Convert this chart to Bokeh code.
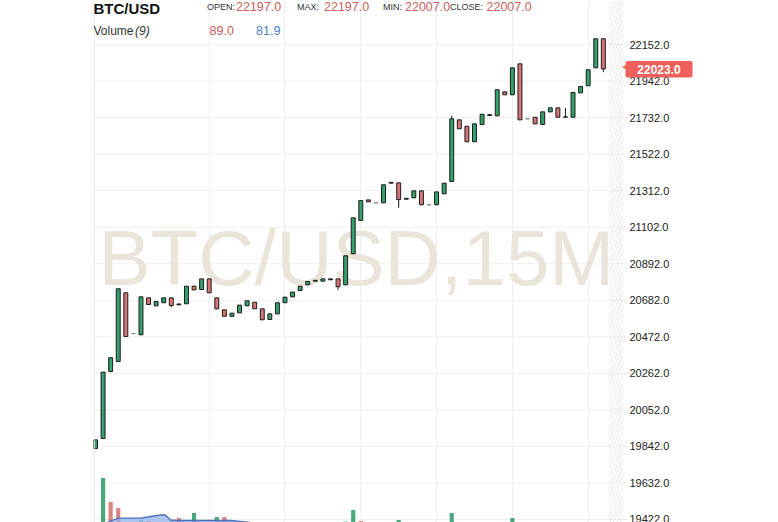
from bokeh.plotting import figure
from bokeh.models import (Range1d, LinearAxis, FixedTicker, NumeralTickFormatter, Label, Span,
                          Grid, ColumnDataSource, BoxAnnotation)
from bokeh.core.properties import value
from bokeh.embed import file_html
from bokeh.resources import INLINE

# ---------------- data ----------------
opens = [19830, 19888, 20273, 20330, 20725, 20491, 20484, 20696, 20650, 20668,
         20696, 20656, 20662, 20763, 20744, 20805, 20696, 20627, 20590, 20610,
         20650, 20671, 20633, 20572, 20604, 20668, 20702, 20738, 20771, 20792,
         20792, 20800, 20805, 20771, 20949, 21141, 21259, 21242, 21242, 21355,
         21357, 21263, 21271, 21311, 21231, 21231, 21294, 21365, 21719, 21682,
         21593, 21692, 21744, 21742, 21880, 21863, 22041, 21725, 21734, 21692,
         21765, 21788, 21734, 21734, 21874, 21915, 22018, 22185]
closes = [19880, 20269, 20352, 20748, 20474, 20491, 20702, 20658, 20675, 20696,
          20652, 20661, 20763, 20742, 20805, 20725, 20633, 20590, 20608, 20654,
          20679, 20633, 20570, 20604, 20668, 20700, 20729, 20763, 20790, 20797,
          20805, 20805, 20760, 20938, 21156, 21255, 21248, 21242, 21346, 21360,
          21261, 21268, 21311, 21231, 21231, 21305, 21355, 21725, 21668, 21593,
          21696, 21751, 21749, 21892, 21863, 22018, 21719, 21725, 21696, 21765,
          21788, 21734, 21736, 21876, 21911, 22007, 22185, 22012]
highs = [19880, 20269, 20352, 20748, 20725, 20491, 20702, 20696, 20675, 20696,
         20696, 20661, 20763, 20763, 20805, 20805, 20696, 20627, 20608, 20654,
         20679, 20671, 20633, 20604, 20668, 20700, 20729, 20763, 20790, 20797,
         20805, 20805, 20805, 20938, 21156, 21255, 21259, 21242, 21346, 21360,
         21357, 21268, 21311, 21311, 21231, 21305, 21355, 21742, 21719, 21682,
         21696, 21751, 21749, 21892, 21880, 22018, 22041, 21725, 21734, 21765,
         21788, 21788, 21788, 21876, 21911, 22007, 22185, 22185]
lows = [19830, 19888, 20273, 20330, 20474, 20491, 20484, 20658, 20650, 20668,
        20642, 20656, 20662, 20742, 20744, 20725, 20633, 20590, 20590, 20610,
        20650, 20633, 20570, 20572, 20604, 20668, 20702, 20738, 20771, 20792,
        20792, 20800, 20742, 20771, 20949, 21141, 21248, 21242, 21242, 21355,
        21214, 21263, 21271, 21231, 21231, 21231, 21294, 21365, 21668, 21593,
        21593, 21692, 21744, 21742, 21863, 21863, 21719, 21725, 21696, 21692,
        21765, 21734, 21734, 21734, 21874, 21915, 22018, 21993]

# visible volume bars (index, volume, rising?)
vol_idx = [1, 2, 3, 6, 7, 10, 11, 13, 16, 17, 33, 34, 35, 40, 47, 55]
vol_val = [189, 141, 129, 104, 103, 105, 109, 119, 111, 111, 102, 125, 103, 105, 119, 109]
vol_up = [True, False, False, True, False, True, False, True, True, False, True, True, False, True, True, True]

# volume moving average (9)
ma_x = [1.5, 3, 6, 7.3, 8.6, 9.2, 9.9, 10.8, 17.8, 20.4]
ma_v = [100, 108.6, 108.6, 112, 115.4, 115, 105.4, 104, 104, 100]

price_ticks = [19422 + 210 * k for k in range(14)]
time_grid = [15, 25, 35, 45, 55, 65]

symbol = "BTC/USD"
watermark = "BTC/USD,15M"
hdr_open, hdr_max, hdr_min, hdr_close = "22197.0", "22197.0", "22007.0", "22007.0"
vol_last, vol_ma = "89.0", "81.9"
last_price = "22023.0"
last_price_level = 22023

# ---------------- styles ----------------
GREEN = "#35a06f"
RED = "#d67575"
EDGE = "#1c1c1c"
FONT = "Liberation Sans"
VAL_RED = "#c8605d"
VAL_BLUE = "#4f81bd"
TAG = "#f0605c"

SCALE = 7.5797           # px per candle slot
FL, FT = 93, 0           # frame position on the canvas
FW, FH = 607, 522        # frame size (includes the price-label strip)
X0 = -0.264
X1 = X0 + FW / SCALE
Y0, Y1 = 19405, 22405
PLOT_RIGHT = 623         # end of the drawing area (hatched zone ends here)


def px2x(px):
    return X0 + (px - FL) * (X1 - X0) / FW


def px2y(py):
    return Y1 - (py - FT) * (Y1 - Y0) / FH


p = figure(width=770, height=522, output_backend="svg", toolbar_location=None,
           x_range=Range1d(X0, X1), y_range=Range1d(Y0, Y1),
           x_axis_location=None, y_axis_location=None,
           min_border_left=FL, min_border_right=770 - FL - FW, min_border_top=0, min_border_bottom=0,
           background_fill_color="white", border_fill_color="white", outline_line_color=None)
p.grid.visible = False

p.add_layout(Grid(dimension=0, ticker=FixedTicker(ticks=time_grid), grid_line_color="#efefef"))
# horizontal price grid, stopping just after the chart area
p.segment(x0=[X0] * len(price_ticks), x1=[px2x(628)] * len(price_ticks),
          y0=price_ticks, y1=price_ticks, line_color="#efefef", line_width=1)
p.add_layout(Span(location=X0 + 0.1, dimension="height", line_color="#e6e6e6", line_width=1))

# watermark
p.text(x=[px2x(98)], y=[px2y(257.5)], text=[watermark], text_font=value(FONT),
       text_font_size="78px", text_color="#e9e5db", text_baseline="middle")

# future hatched zone
p.quad(left=[67.7], right=[px2x(PLOT_RIGHT)], bottom=[Y0], top=[Y1], fill_alpha=0, line_alpha=0,
       hatch_pattern="/", hatch_color="#e6e6e6", hatch_scale=7, hatch_weight=1)

# volume
p.extra_y_ranges = {"vol": Range1d(100, 1144)}
vsrc = ColumnDataSource(dict(x=vol_idx, top=vol_val,
                             color=[GREEN if u else RED for u in vol_up]))
p.vbar(x="x", top="top", bottom=0, width=0.55, fill_color="color", line_color=None,
       fill_alpha=0.9, source=vsrc, y_range_name="vol")
p.varea(x=ma_x, y1=[100] * len(ma_x), y2=ma_v, fill_color="#93b1ec", fill_alpha=0.75,
        y_range_name="vol")
p.line(x=ma_x, y=ma_v, line_color="#4a6fc0", line_width=1.3, y_range_name="vol")

# candles
idx = list(range(len(opens)))
fills, edges = [], []
for o, c in zip(opens, closes):
    if c > o:
        fills.append(GREEN); edges.append(EDGE)
    elif c < o:
        fills.append(RED); edges.append(EDGE)
    else:
        fills.append(None); edges.append("#8a8a8a")
csrc = ColumnDataSource(dict(x=idx, h=highs, l=lows,
                             top=[max(o, c) for o, c in zip(opens, closes)],
                             bot=[min(o, c) for o, c in zip(opens, closes)],
                             fill=fills, edge=edges))
p.segment(x0="x", y0="l", x1="x", y1="h", line_color=EDGE, line_width=1, source=csrc)
p.vbar(x="x", top="top", bottom="bot", width=0.52, fill_color="fill", line_color="edge",
       line_width=1, source=csrc)

# right price axis: labels pulled back into the label strip of the frame
ax = LinearAxis(ticker=FixedTicker(ticks=price_ticks), formatter=NumeralTickFormatter(format="0.0"),
                axis_line_color=None, major_tick_line_color=None, minor_tick_line_color=None,
                major_tick_out=0, major_tick_in=0, major_label_standoff=629 - (FL + FW),
                major_label_text_font=FONT, major_label_text_font_size="11px",
                major_label_text_color="#222222")
p.add_layout(ax, "right")

# last price marker
p.add_layout(BoxAnnotation(left=px2x(625), right=px2x(692), top=px2y(60.5), bottom=px2y(77),
                           fill_color=TAG, fill_alpha=1, line_color=None, border_radius=2,
                           level="overlay"))
p.add_layout(Label(x=px2x(626), y=last_price_level, text="◀", text_align="right",
                   text_baseline="middle", text_color=TAG, text_font_size="7px", level="overlay"))
p.add_layout(Label(x=px2x(658.5), y=px2y(68.5), text=last_price, text_align="center",
                   text_baseline="middle", text_color="white", text_font=FONT,
                   text_font_style="bold", text_font_size="12px", level="overlay"))


# header texts (y given as text centre)
def hdr(px, py, text, size, color="#222222", style="normal"):
    p.add_layout(Label(x=px2x(px), y=px2y(py), text=text, text_align="left",
                       text_baseline="middle", text_font=FONT, text_font_size=size,
                       text_color=color, text_font_style=style))


hdr(93, 8, symbol, "15px", "#111111", "bold")
hdr(206.5, 6.5, "OPEN:", "9px", "#333333")
hdr(235.5, 5.6, hdr_open, "12.5px", VAL_RED)
hdr(296.5, 6.5, "MAX:", "9px", "#333333")
hdr(323.5, 5.6, hdr_max, "12.5px", VAL_RED)
hdr(382.5, 6.5, "MIN:", "9px", "#333333")
hdr(404.5, 5.6, hdr_min, "12.5px", VAL_RED)
hdr(449.5, 6.5, "CLOSE:", "9px", "#333333")
hdr(486, 5.6, hdr_close, "12.5px", VAL_RED)
hdr(93, 30.3, "Volume", "12px", "#333333")
hdr(134.5, 30.3, "(9)", "12px", "#333333", "italic")
hdr(209, 30.1, vol_last, "12.5px", VAL_RED)
hdr(255.5, 30.1, vol_ma, "12.5px", VAL_BLUE)

open("out.html", "w").write(file_html(p, INLINE))
